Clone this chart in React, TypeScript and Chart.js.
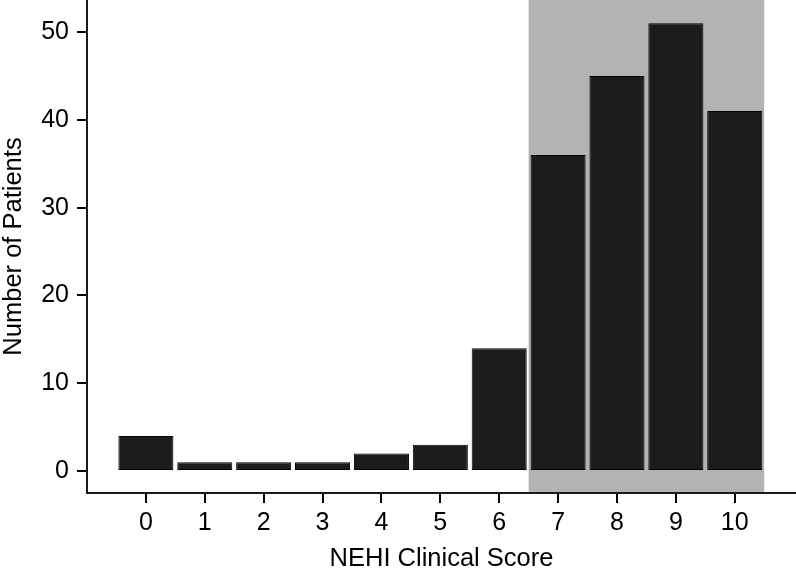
import React, { useEffect, useRef } from "react";
import { Chart, registerables } from "chart.js";

Chart.register(...registerables);

const scores = [0, 1, 2, 3, 4, 5, 6, 7, 8, 9, 10];
const patients = [4, 1, 1, 1, 2, 3, 14, 36, 45, 51, 41];
const yTicks = [0, 10, 20, 30, 40, 50];
const shadeRange = [6.5, 10.5];
const xTitle = "NEHI Clinical Score";
const yTitle = "Number of Patients";

const FONT = "'Liberation Sans', Arial, Helvetica, sans-serif";

const shadePlugin = {
  id: "shade",
  beforeDatasetsDraw(chart: any) {
    const { ctx, chartArea, scales } = chart;
    const x0 = scales.x.getPixelForValue(shadeRange[0]);
    const x1 = scales.x.getPixelForValue(shadeRange[1]);
    ctx.save();
    ctx.fillStyle = "#b3b3b3";
    ctx.fillRect(x0, chartArea.top, x1 - x0, chartArea.bottom - chartArea.top - 1);
    ctx.restore();
  },
};

export default function App() {
  const ref = useRef<HTMLCanvasElement>(null);
  useEffect(() => {
    if (!ref.current) return;
    const chart = new Chart(ref.current, {
      type: "bar",
      data: {
        datasets: [
          {
            data: scores.map((s, i) => ({ x: s, y: patients[i] })),
            backgroundColor: "#1c1c1c",
            borderColor: "#000000",
            borderWidth: 1,
            borderSkipped: false,
            barPercentage: 0.935,
            categoryPercentage: 1,
          },
        ],
      },
      options: {
        animation: false,
        responsive: false,
        layout: { padding: 0 },
        plugins: { legend: { display: false }, tooltip: { enabled: false } },
        scales: {
          x: {
            type: "linear",
            min: -1,
            max: 11.04,
            offset: false,
            grid: {
              offset: false,
              drawOnChartArea: false,
              drawTicks: true,
              tickLength: 10,
              color: "#000",
              lineWidth: 2,
            },
            border: { display: true, color: "#1a1a1a", width: 2 },
            afterBuildTicks: (scale: any) => {
              scale.ticks = scores.map((v) => ({ value: v }));
            },
            afterFit: (scale: any) => {
              scale.height = 81;
              scale.paddingLeft = 0;
              scale.paddingRight = 0;
            },
            ticks: {
              autoSkip: false,
              maxRotation: 0,
              padding: 5,
              color: "#000",
              font: { family: FONT, size: 25 },
            },
            title: {
              display: true,
              text: xTitle,
              color: "#000",
              font: { family: FONT, size: 25.5, lineHeight: 1.2 },
              padding: { top: 0, bottom: 0 },
            },
          },
          y: {
            type: "linear",
            min: -2.5,
            max: 53.65,
            grid: {
              drawOnChartArea: false,
              drawTicks: true,
              tickLength: 10,
              color: "#000",
              lineWidth: 2,
            },
            border: { display: true, color: "#1a1a1a", width: 2 },
            afterBuildTicks: (scale: any) => {
              scale.ticks = yTicks.map((v) => ({ value: v }));
            },
            afterFit: (scale: any) => {
              scale.width = 87;
              scale.paddingTop = 0;
              scale.paddingBottom = 0;
            },
            ticks: {
              padding: 8,
              color: "#000",
              font: { family: FONT, size: 25 },
            },
            title: {
              display: true,
              text: yTitle,
              color: "#000",
              font: { family: FONT, size: 25.5, lineHeight: 1.075 },
              padding: { top: 0, bottom: 0 },
            },
          },
        },
      },
      plugins: [shadePlugin],
    } as any);
    return () => chart.destroy();
  }, []);
  return (
    <div style={{ position: "absolute", left: 0, top: 0, width: 796, height: 574, background: "#fff" }}>
      <canvas ref={ref} width={796} height={574} style={{ display: "block" }} />
    </div>
  );
}
